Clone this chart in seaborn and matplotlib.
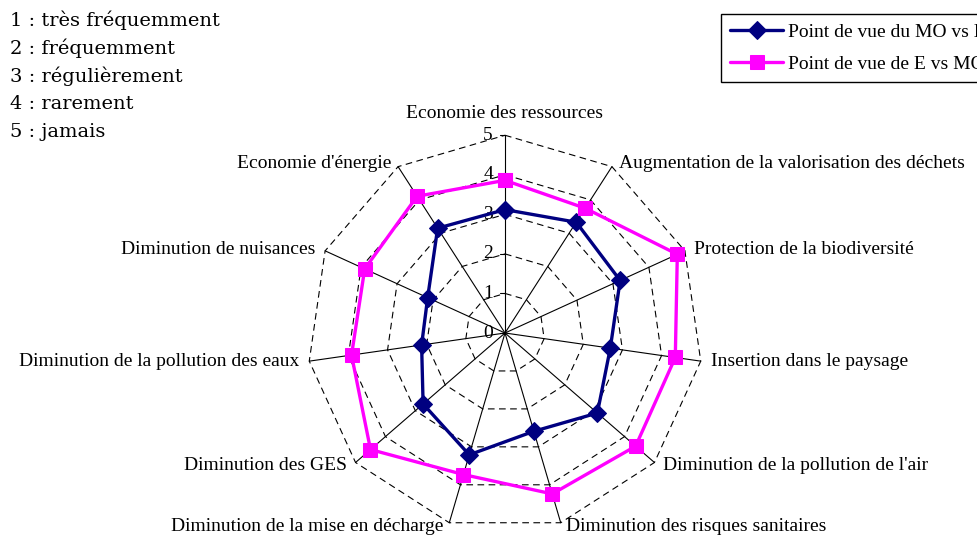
import numpy as np
import pandas as pd
import matplotlib.pyplot as plt
import seaborn as sns

# axes of the radar, clockwise from the top
categories = ["Economie des ressources",
              "Augmentation de la valorisation des déchets",
              "Protection de la biodiversité",
              "Insertion dans le paysage",
              "Diminution de la pollution de l'air",
              "Diminution des risques sanitaires",
              "Diminution de la mise en décharge",
              "Diminution des GES",
              "Diminution de la pollution des eaux",
              "Diminution de nuisances",
              "Economie d'énergie"]

mo_vs_e = [3.12, 3.33, 3.2, 2.69, 3.09, 2.59, 3.21, 2.74, 2.13, 2.15, 3.15]
e_vs_mo = [3.86, 3.75, 4.79, 4.35, 4.37, 4.24, 3.73, 4.5, 3.92, 3.9, 4.11]

series_names = ["Point de vue du MO vs E", "Point de vue de E vs MO"]
scale_ticks = [0, 1, 2, 3, 4, 5]
key_lines = ["1 : très fréquemment", "2 : fréquemment", "3 : régulièrement",
             "4 : rarement", "5 : jamais"]

sns.set_style("white")
plt.rcParams['font.family'] = ['Liberation Serif', 'DejaVu Serif']
plt.rcParams['text.color'] = 'black'

n = len(categories)
theta = np.arange(n) * 2 * np.pi / n


def to_xy(r):
    r = np.asarray(r, dtype=float)
    return r * np.sin(theta), r * np.cos(theta)


W, H = 978, 537
px = 39.55          # pixels per unit of the scale
cx, cy = 505, 333   # centre of the radar in pixels
fs = 14

fig = plt.figure(figsize=(W / 100, H / 100), dpi=100)
ax = fig.add_axes([0, 0, 1, 1])
ax.set_xlim(-cx / px, (W - cx) / px)
ax.set_ylim(-(H - cy) / px, cy / px)
ax.axis('off')

# dashed polygon grid
for r in scale_ticks[1:]:
    gx, gy = to_xy(np.full(n, r))
    ax.plot(np.append(gx, gx[0]), np.append(gy, gy[0]), color='black',
            lw=0.8, ls=(0, (6, 4)), zorder=1)

# spokes
vx, vy = to_xy(np.full(n, scale_ticks[-1]))
for x, y in zip(vx, vy):
    ax.plot([0, x], [0, y], color='black', lw=0.8, zorder=1)

# scale on the vertical axis
for r in scale_ticks:
    ax.plot([-5 / px, 0], [r, r], color='black', lw=0.8, zorder=1)
    ax.text(-12 / px, r, str(r), ha='right', va='center', fontsize=fs,
            color='black')

# data
styles = [dict(color='#000080', marker='D', markersize=9),
          dict(color='#FF00FF', marker='s', markersize=10)]
for name, vals, st in zip(series_names, [mo_vs_e, e_vs_mo], styles):
    x, y = to_xy(vals)
    d = pd.DataFrame({'x': np.append(x, x[0]), 'y': np.append(y, y[0])})
    sns.lineplot(data=d, x='x', y='y', sort=False, estimator=None, ax=ax,
                 color=st['color'], lw=2.4, marker=st['marker'],
                 markersize=st['markersize'], markeredgecolor=st['color'],
                 label=name, zorder=3)

# category labels
for k, (lab, x, y) in enumerate(zip(categories, vx, vy)):
    s, c = np.sin(theta[k]), np.cos(theta[k])
    if k == 0:
        ax.text(0, 5.55, lab, ha='center', va='center', fontsize=fs)
    else:
        off = 0.1 + 0.15 * abs(s)
        ax.text(x + np.sign(s) * off, y + 0.1 * c, lab,
                ha='left' if s > 0 else 'right', va='center', fontsize=fs)

# legend runs off the right edge, as in the original
leg = ax.legend(loc='upper left', bbox_to_anchor=(721 / W, 1 - 14 / H),
                bbox_transform=fig.transFigure, frameon=True, fancybox=False,
                edgecolor='black', framealpha=1, fontsize=fs, handlelength=2.7,
                handletextpad=0.25, borderpad=0.48, labelspacing=0.75,
                borderaxespad=0)
leg.get_frame().set_linewidth(1.0)
for t in leg.get_texts():
    t.set_color('black')

for i, line in enumerate(key_lines):
    fig.text(10 / W, 1 - (20 + 28 * i) / H, line, fontsize=14, va='center',
             family='DejaVu Serif')

fig.savefig('out.png', dpi=100)
